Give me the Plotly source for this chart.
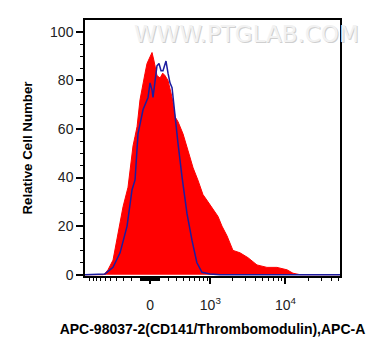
import numpy as np
import plotly.graph_objects as go

# ---- data (APC-A intensity, relative cell number) ----
red_x = [-1162, -642, -604, -544, -453, -374, -301, -237, -178, -155, -133, -102, -85,
         -70, -50, -30, 0, 20, 40, 70, 102, 130, 155, 189, 237, 275, 315, 388, 471,
         564, 665, 788, 929, 1089, 1200, 1274, 1442, 1686, 2026, 2515, 3208, 4217,
         5709, 7732, 10494, 12573, 15543, 52338]
red_y = [0, 0, 0.5, 2, 6, 17, 28, 36, 53, 57, 61, 72, 76,
         80, 83, 87, 90, 91.5, 88, 82, 81, 83, 82, 80, 73, 65, 63, 58, 51,
         44, 39, 33, 30, 27, 25, 24, 20, 16, 10, 9, 7, 4,
         3, 3, 2, 0.6, 0, 0]

blue_x = [-1162, -642, -604, -453, -343, -249, -189, -155, -123, -70, -20, 0, 20, 30,
          50, 70, 91, 112, 133, 166, 189, 212, 237, 275, 315, 374, 453, 544, 642,
          763, 987, 1356, 52338]
blue_y = [0, 0, 0.3, 3, 9, 20, 35, 39, 58, 68, 73, 79, 76, 73,
          81, 86, 87, 84, 84, 88, 83, 79, 77, 65, 54, 40, 25, 14, 5,
          1, 0.3, 0, 0]

major_vals = [0, 1000, 10000]
major_text = ["0", "10<sup>3</sup>", "10<sup>4</sup>"]
minor_vals = ([-k * 100 for k in range(1, 11)] + [-k * 10 for k in range(1, 10)] +
              [k * 10 for k in range(1, 10)] + [k * 100 for k in range(1, 10)] +
              [k * 1000 for k in range(2, 10)] + [k * 10000 for k in range(2, 6)])

x_min, x_max = -1162, 52338
COF = 330.0


def tr(v):
    return np.arcsinh(np.asarray(v, dtype=float) / COF)


fig = go.Figure()
fig.add_trace(go.Scatter(x=tr(red_x), y=red_y, mode="lines", fill="tozeroy",
                         fillcolor="#ff0000", line=dict(color="#ff0000", width=1),
                         showlegend=False, hoverinfo="skip"))
fig.add_trace(go.Scatter(x=tr(blue_x), y=blue_y, mode="lines",
                         line=dict(color="#1c1ca0", width=1.5),
                         showlegend=False, hoverinfo="skip"))

# page body adds an 8px margin, so the figure is 8px smaller and shifted
fig.update_layout(
    template="none",
    width=380, height=348,
    margin=dict(l=77, r=48, t=12, b=80),
    paper_bgcolor="white", plot_bgcolor="white",
    font=dict(family="Liberation Sans, Arial, sans-serif", color="#222", size=14),
)
fig.update_xaxes(
    automargin=False,
    range=[float(tr(x_min)), float(tr(x_max))],
    tickmode="array", tickvals=tr(major_vals).tolist(), ticktext=major_text,
    ticks="outside", ticklen=6, tickwidth=1.5, tickcolor="black",
    minor=dict(tickmode="array", tickvals=tr(minor_vals).tolist(), ticks="outside",
               ticklen=3, tickwidth=1, tickcolor="black"),
    showline=True, linecolor="black", linewidth=1.5, mirror=True,
    showgrid=False, zeroline=False,
    tickfont=dict(size=14, color="#222"),
    ticklabelstandoff=9,
    title=dict(text="<b>APC-98037-2(CD141/Thrombomodulin),APC-A</b>",
               font=dict(size=14, color="black"), standoff=13),
)
fig.update_yaxes(
    automargin=False,
    range=[-0.55, 104.9],
    tickmode="array", tickvals=[0, 20, 40, 60, 80, 100],
    ticks="outside", ticklen=7, tickwidth=1.5, tickcolor="black",
    minor=dict(tickmode="array", tickvals=[v for v in range(5, 105, 5) if v % 20],
               ticks="outside", ticklen=3, tickwidth=1, tickcolor="black"),
    showline=True, linecolor="black", linewidth=1.5, mirror=True,
    showgrid=False, zeroline=False,
    tickfont=dict(size=14, color="#222"),
    title=dict(text="<b>Relative Cell Number</b>",
               font=dict(size=13.3, color="black"), standoff=14),
)
# watermark
for dx, dy, col in [(1, -1, "#cfcfcf"), (0, 0, "#f2f2f2")]:
    fig.add_annotation(text="WWW.PTGLAB.COM", xref="paper", yref="paper",
                       x=0.635, y=0.945, xanchor="center", yanchor="middle",
                       xshift=dx, yshift=dy, showarrow=False,
                       font=dict(family="DejaVu Sans", size=23, color=col))

fig.write_html("out.html")
